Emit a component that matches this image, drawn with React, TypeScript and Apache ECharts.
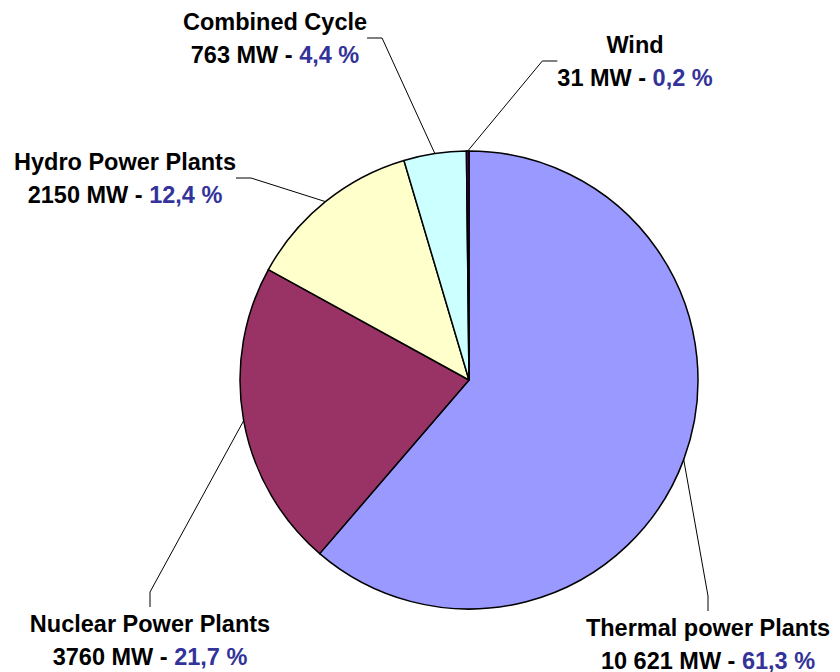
import React, { useEffect, useRef } from "react";
import * as echarts from "echarts";

const categories = [
  "Thermal power Plants",
  "Nuclear Power Plants",
  "Hydro Power Plants",
  "Combined Cycle",
  "Wind",
];
const capacityMW = [10621, 3760, 2150, 763, 31];
const colors = ["#9999FF", "#993366", "#FFFFCC", "#CCFFFF", "#660066"];
// label block centres (x, y) in pixels
const labelPos: [number, number][] = [
  [708, 644],
  [150, 640],
  [125, 178],
  [275, 38],
  [635, 61],
];

function fmtMW(v: number): string {
  return String(v).length > 4
    ? String(v).replace(/\B(?=(\d{3})+(?!\d))/g, " ")
    : String(v);
}

const FONT = "Liberation Sans, Arial, sans-serif";
const FS = 23.5;

export default function App() {
  const ref = useRef<HTMLDivElement>(null);
  useEffect(() => {
    if (!ref.current) return;
    const chart = echarts.init(ref.current, null, { renderer: "svg" });
    chart.setOption({
      animation: false,
      backgroundColor: "#ffffff",
      series: [
        {
          type: "pie",
          center: [469, 380],
          radius: 229,
          startAngle: 90,
          clockwise: true,
          avoidLabelOverlap: false,
          itemStyle: { borderColor: "#000000", borderWidth: 1.5 },
          data: categories.map((n, i) => ({
            name: n,
            value: capacityMW[i],
            itemStyle: { color: colors[i] },
          })),
          label: {
            show: true,
            position: "outside",
            align: "center",
            fontFamily: FONT,
            fontWeight: "bold",
            fontSize: FS,
            lineHeight: 33,
            color: "#000000",
            formatter: (p: any) =>
              `{n|${p.name}}\n{n|${fmtMW(p.value)} MW - }{p|${p.percent
                .toFixed(1)
                .replace(".", ",")} %}`,
            rich: {
              n: {
                fontFamily: FONT,
                fontWeight: "bold",
                fontSize: FS,
                lineHeight: 33,
                color: "#000000",
              },
              p: {
                fontFamily: FONT,
                fontWeight: "bold",
                fontSize: FS,
                lineHeight: 33,
                color: "#333399",
              },
            },
          },
          labelLine: {
            show: true,
            length: 20,
            length2: 15,
            lineStyle: { color: "#000000", width: 1 },
          },
          labelLayout: (params: any) => {
            const [x, y] = labelPos[params.dataIndex];
            return { x, y, align: "center", verticalAlign: "middle" };
          },
        },
      ],
    });
    return () => chart.dispose();
  }, []);
  return (
    <div
      ref={ref}
      style={{ position: "fixed", left: 0, top: 0, width: 840, height: 672 }}
    />
  );
}
